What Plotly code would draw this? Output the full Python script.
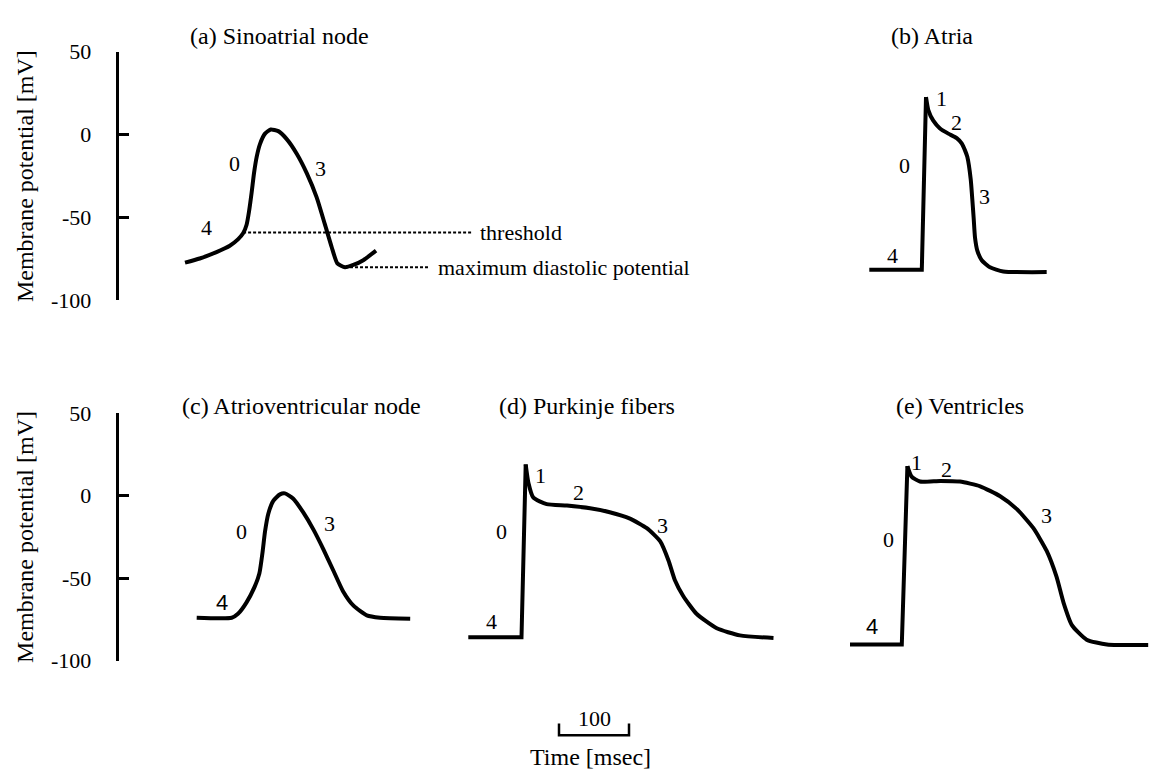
import plotly.graph_objects as go

W, H = 1149, 783
PX_PER_MS = 0.7            # common time scale for all traces
PAD_PX = 8                 # room around each trace so the thick line is not clipped
SERIF = "Liberation Serif"
SANS = "Liberation Sans"

# Shared membrane-potential axis
TICK_VALS = [50, 0, -50, -100]
TICK_TEXT = ["50", "0", "-50", "-100"]
V_RANGE = [-100, 50]

# (a) Sinoatrial node  (time in ms, potential in mV)
sa_t = [0, 21, 45, 64, 76, 83, 88, 91.4, 95.2, 98.6, 102.4, 107.1, 114.3,
        122.4, 133.3, 145.3, 159.6, 173.9, 188.1, 200, 209.6, 217.6, 228.6,
        240.4, 254.7, 272.9]
sa_v = [-77.2, -74.7, -70.8, -67, -63, -59.5, -54.3, -46.5, -34.9, -23.2,
        -13.4, -5.7, 0.6, 3.1, 2.1, -2.7, -11.5, -23.2, -37.8, -54.3, -67.9,
        -77.6, -80, -78.6, -75.7, -69.9]
sa_threshold = -59
sa_threshold_t = 83
threshold_end_t = 410
mdp_end_t = 350

# (b) Atria
atria_t = [0, 75, 81, 84.3, 91.4, 101, 112.9, 124.9, 132, 136.7, 140, 144.9,
           147.1, 149.1, 151, 154.3, 160.6, 172.4, 191.4, 253.4]
atria_v = [-81.5, -81.5, 22.6, 14.8, 8.4, 3.7, 0.6, -2.1, -5.3, -9.5, -13.4,
           -27, -38.7, -50.4, -62, -69.9, -75.7, -80, -82.5, -82.9]

# (c) Atrioventricular node
av_t = [0, 50, 59, 71, 83, 89.5, 94.3, 97.6, 102.3, 109.4, 119, 126, 138, 152,
        167, 181, 195, 209, 224, 243, 262, 305]
av_v = [-74, -74, -71.6, -64.8, -55, -47.2, -33.5, -21.7, -10.9, -3.1, 0.8,
        1.4, -1.8, -10, -20.7, -32.5, -45.2, -57.9, -66.7, -72.6, -74, -74.6]

# (d) Purkinje fibers
pk_t = [0, 76, 82, 86, 93, 112, 141, 174, 202, 231, 255, 274, 286, 295, 307,
        326, 355, 388, 436]
pk_v = [-85.9, -85.9, 19, 7.6, -1.2, -5.1, -6, -7.6, -10, -13.9, -19.7,
        -27.6, -39.3, -51.1, -60.8, -71.6, -80.4, -84.7, -86.3]

# (e) Ventricles
vt_t = [0, 74, 82, 88, 100, 129, 157, 186, 214, 238, 262, 281, 295, 305, 317,
        338, 367, 426]
vt_v = [-90.2, -90.2, 18, 11.6, 8.6, 9, 8.6, 5.7, -0.2, -8, -19.7, -33.5,
        -49.1, -64.8, -78.5, -87.3, -90.2, -90.6]

# Phase numbers: (text, time, potential)
sa_phases = [("0", 71, -17.5), ("3", 194, -20.3), ("4", 31, -56)]
atria_phases = [("1", 103, 21.6), ("2", 124, 7.6), ("0", 50, -18.9),
                ("3", 164, -37.2), ("4", 33, -72.8)]
av_phases = [("0", 64, -21.7), ("3", 189, -16.8), ("4", 36, -64.8)]
pk_phases = [("1", 103, 12), ("2", 157, 1.8), ("0", 48, -21.7),
             ("3", 278, -17.8), ("4", 33, -76.5)]
vt_phases = [("1", 95, 20.4), ("2", 138, 15.9), ("3", 281, -11.9),
             ("0", 55, -26.6), ("4", 31, -79.4)]

SCALE_BAR_MS = 100

panels = [
    dict(title="(a) Sinoatrial node", t=sa_t, v=sa_v, row=1, left=185,
         fast=False, phases=sa_phases, extra_t=threshold_end_t,
         title_pos=(188, 25, "left"), sans4=False),
    dict(title="(b) Atria", t=atria_t, v=atria_v, row=1, left=869.3,
         fast=True, phases=atria_phases, extra_t=0,
         title_pos=(932, 25, "center"), sans4=False),
    dict(title="(c) Atrioventricular node", t=av_t, v=av_v, row=2, left=196.7,
         fast=False, phases=av_phases, extra_t=0,
         title_pos=(180, 407, "left"), sans4=True),
    dict(title="(d) Purkinje fibers", t=pk_t, v=pk_v, row=2, left=468.3,
         fast=True, phases=pk_phases, extra_t=0,
         title_pos=(496.7, 407, "left"), sans4=False),
    dict(title="(e) Ventricles", t=vt_t, v=vt_v, row=2, left=850,
         fast=True, phases=vt_phases, extra_t=0,
         title_pos=(894, 407, "left"), sans4=True),
]

# Vertical placement of the two potential axes (pixels from top)
ROW_PX = {1: (41, 298), 2: (414.5, 670)}
AXIS_X_PX = 116.5

LINE = dict(color="black", width=4)
SMOOTH = 0.55

fig = go.Figure()
annotations = []
layout = {}


def axname(prefix, k):
    return prefix + ("" if k == 1 else str(k))


for k, p in enumerate(panels, start=1):
    xa = axname("x", k)
    ya = "y" if p["row"] == 1 else "y2"
    t, v = p["t"], p["v"]

    pad_ms = PAD_PX / PX_PER_MS
    t_lo = min(t) - pad_ms
    t_hi = max(max(t), p["extra_t"]) + pad_ms
    d_lo = (p["left"] + (t_lo - t[0]) * PX_PER_MS) / W
    d_hi = d_lo + (t_hi - t_lo) * PX_PER_MS / W
    if d_hi > 1:
        d_hi = 1.0
        t_hi = t_lo + (d_hi - d_lo) * W / PX_PER_MS
    layout[axname("xaxis", k)] = dict(domain=[d_lo, d_hi], range=[t_lo, t_hi],
                                      anchor=ya, visible=False)

    if p["fast"]:
        # resting level and upstroke are straight, the rest is a smooth curve
        ipk = v.index(max(v))
        fig.add_trace(go.Scatter(x=t[:ipk + 1], y=v[:ipk + 1], mode="lines",
                                 line=dict(**LINE, shape="linear"),
                                 xaxis=xa, yaxis=ya, hoverinfo="skip"))
        fig.add_trace(go.Scatter(x=t[ipk:], y=v[ipk:], mode="lines",
                                 line=dict(**LINE, shape="spline",
                                           smoothing=SMOOTH),
                                 xaxis=xa, yaxis=ya, hoverinfo="skip"))
    else:
        fig.add_trace(go.Scatter(x=t, y=v, mode="lines",
                                 line=dict(**LINE, shape="spline",
                                           smoothing=SMOOTH),
                                 xaxis=xa, yaxis=ya, hoverinfo="skip"))

    for txt, pt, pv in p["phases"]:
        fam = SANS if (txt == "4" and p["sans4"]) else SERIF
        annotations.append(dict(x=pt, y=pv, xref=xa, yref=ya, text=txt,
                                showarrow=False, xanchor="center",
                                yanchor="middle",
                                font=dict(family=fam, size=22, color="black")))

    tx, ty, anchor = p["title_pos"]
    annotations.append(dict(x=tx / W, y=1 - ty / H, xref="paper", yref="paper",
                            text=p["title"], showarrow=False, xanchor=anchor,
                            yanchor="middle",
                            font=dict(family=SERIF, size=24, color="black")))

# Threshold and maximum diastolic potential reference lines in panel (a)
mdp = min(sa_v)
mdp_t = sa_t[sa_v.index(mdp)]
DOT = dict(color="black", width=2, dash="3px,2px")
fig.add_trace(go.Scatter(x=[sa_threshold_t, threshold_end_t],
                         y=[sa_threshold, sa_threshold], mode="lines",
                         line=DOT, xaxis="x", yaxis="y", hoverinfo="skip"))
fig.add_trace(go.Scatter(x=[mdp_t, mdp_end_t], y=[mdp, mdp], mode="lines",
                         line=DOT, xaxis="x", yaxis="y", hoverinfo="skip"))
annotations.append(dict(x=threshold_end_t, y=sa_threshold, xref="x", yref="y",
                        text="threshold", showarrow=False, xanchor="left",
                        xshift=6, yanchor="middle",
                        font=dict(family=SERIF, size=22, color="black")))
annotations.append(dict(x=mdp_end_t, y=mdp, xref="x", yref="y",
                        text="maximum diastolic potential", showarrow=False,
                        xanchor="left", xshift=6, yanchor="middle",
                        font=dict(family=SERIF, size=22, color="black")))

# Potential axes, one per row
for row, yname in ((1, "yaxis"), (2, "yaxis2")):
    top, bot = ROW_PX[row]
    layout[yname] = dict(
        domain=[1 - bot / H, 1 - top / H], range=V_RANGE, anchor="free",
        position=AXIS_X_PX / W, showline=True, linecolor="black", linewidth=2.5,
        ticks="inside", ticklen=11, tickwidth=2.5, tickcolor="black",
        tickvals=TICK_VALS, ticktext=TICK_TEXT, ticklabelstandoff=20,
        tickfont=dict(family=SERIF, size=22, color="black"),
        showgrid=False, zeroline=False)
    annotations.append(dict(x=25 / W, y=1 - (top + bot) / 2 / H, xref="paper",
                            yref="paper", text="Membrane potential [mV]",
                            textangle=-90, showarrow=False, xanchor="center",
                            yanchor="middle",
                            font=dict(family=SERIF, size=24, color="black")))

# Time scale bar
bar_left_px, bar_y_px, bar_tick_px = 559, 747, 12
sb_pad = PAD_PX / PX_PER_MS
layout["xaxis6"] = dict(
    domain=[(bar_left_px - PAD_PX) / W,
            (bar_left_px + SCALE_BAR_MS * PX_PER_MS + PAD_PX) / W],
    range=[-sb_pad, SCALE_BAR_MS + sb_pad], anchor="y3", visible=False)
layout["yaxis3"] = dict(
    domain=[1 - (bar_y_px + 10) / H, 1 - (bar_y_px - bar_tick_px - 10) / H],
    range=[-10 / bar_tick_px, (bar_tick_px + 10) / bar_tick_px],
    anchor="x6", visible=False)
fig.add_trace(go.Scatter(x=[0, 0, SCALE_BAR_MS, SCALE_BAR_MS], y=[1, 0, 0, 1],
                         mode="lines", line=dict(color="black", width=2.5),
                         xaxis="x6", yaxis="y3", hoverinfo="skip"))
annotations.append(dict(x=SCALE_BAR_MS / 2, y=1.4, xref="x6", yref="y3",
                        text=str(SCALE_BAR_MS), showarrow=False,
                        xanchor="center", yanchor="middle",
                        font=dict(family=SERIF, size=22, color="black")))
annotations.append(dict(x=590 / W, y=1 - 770 / H, xref="paper", yref="paper",
                        text="Time [msec]", showarrow=False, xanchor="center",
                        yanchor="middle",
                        font=dict(family=SERIF, size=24, color="black")))

fig.update_layout(
    width=W, height=H, margin=dict(l=0, r=0, t=0, b=0),
    paper_bgcolor="white", plot_bgcolor="white", showlegend=False,
    annotations=annotations, **layout)

fig.write_html("out.html")
